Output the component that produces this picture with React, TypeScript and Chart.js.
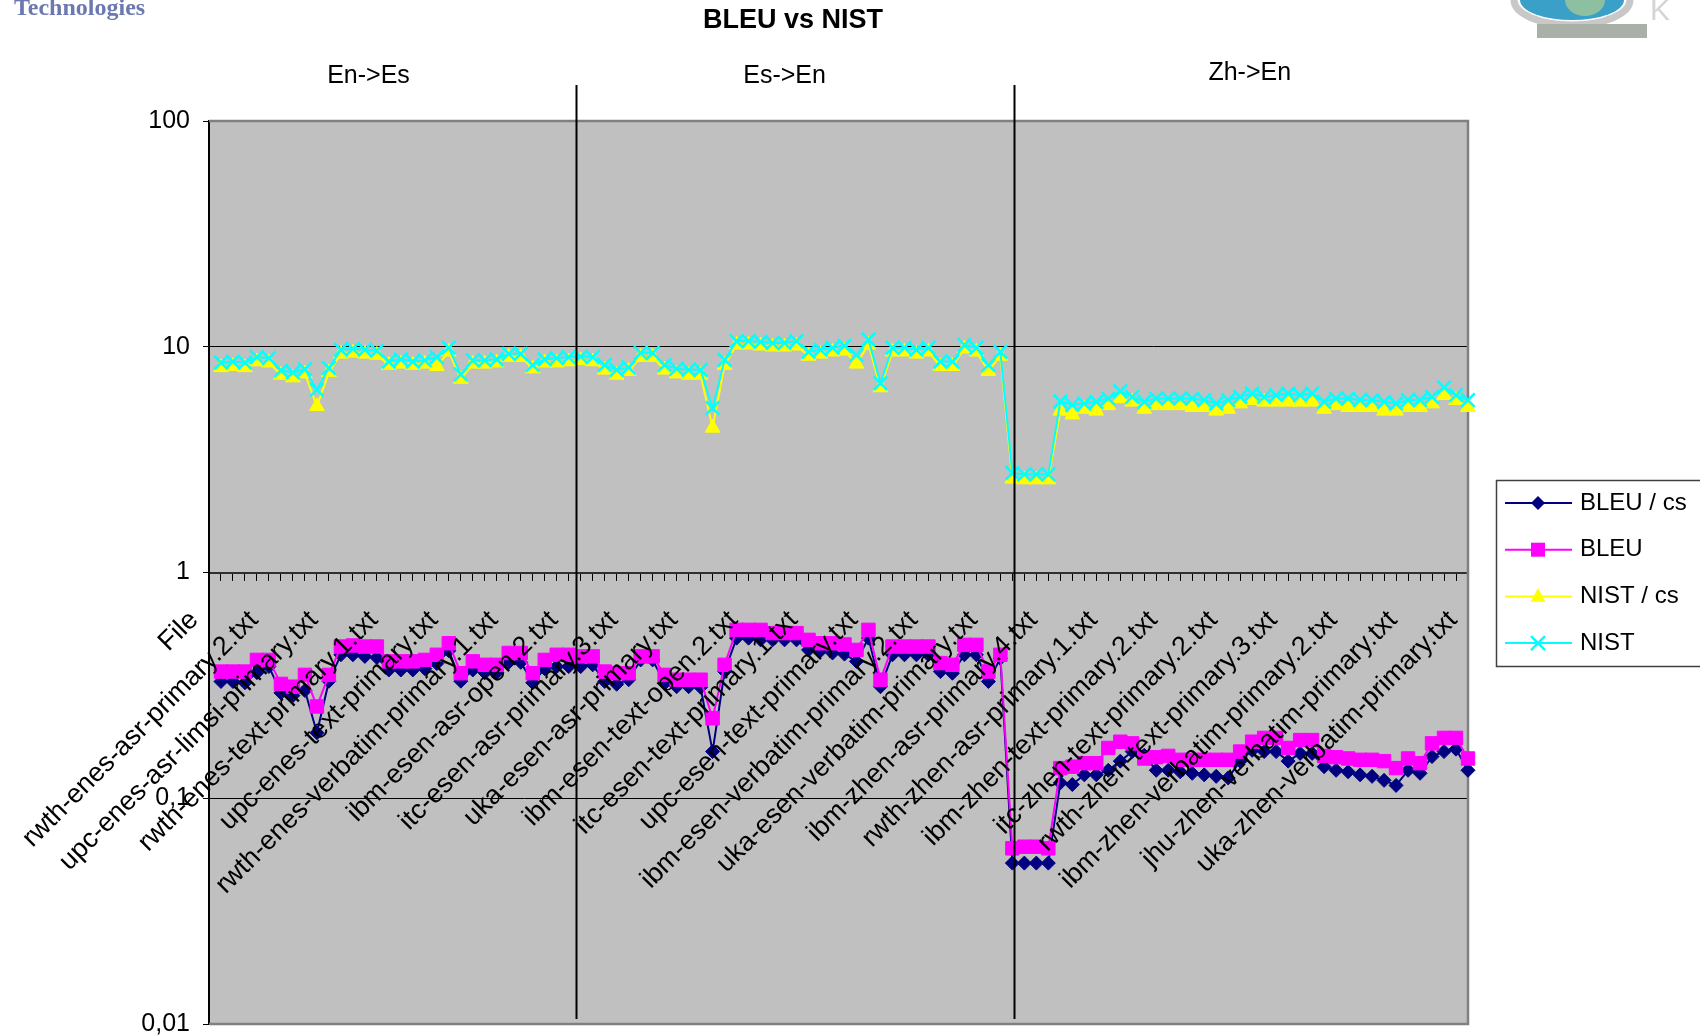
import React, { useEffect, useRef } from 'react';
import { Chart, registerables } from 'chart.js';

Chart.register(...registerables);

const FONT = "'Liberation Sans', Arial, Helvetica, sans-serif";

// Category labels visible on the axis (every 5th category, "File" is category 0)
const labeledFiles = [
  'File',
  'rwth-enes-asr-primary.2.txt',
  'upc-enes-asr-limsi-primary.txt',
  'rwth-enes-text-primary.1.txt',
  'upc-enes-text-primary.txt',
  'rwth-enes-verbatim-primary.1.txt',
  'ibm-esen-asr-open.2.txt',
  'itc-esen-asr-primary.3.txt',
  'uka-esen-asr-primary.txt',
  'ibm-esen-text-open.2.txt',
  'itc-esen-text-primary.1.txt',
  'upc-esen-text-primary.txt',
  'ibm-esen-verbatim-primary.2.txt',
  'uka-esen-verbatim-primary.txt',
  'ibm-zhen-asr-primary.4.txt',
  'rwth-zhen-asr-primary.1.txt',
  'ibm-zhen-text-primary.2.txt',
  'itc-zhen-text-primary.2.txt',
  'rwth-zhen-text-primary.3.txt',
  'ibm-zhen-verbatim-primary.2.txt',
  'jhu-zhen-verbatim-primary.txt',
  'uka-zhen-verbatim-primary.txt',
];
const labelStep = 5;
const categoryCount = 106;

const bleuCs = [
  null,
  0.329, 0.329, 0.325, 0.36, 0.383, 0.293, 0.285, 0.3, 0.195, 0.33,
  0.432, 0.432, 0.425, 0.42, 0.37, 0.37, 0.37, 0.375, 0.395, 0.45,
  0.33, 0.37, 0.36, 0.36, 0.4, 0.4, 0.325, 0.375, 0.383, 0.383,
  0.383, 0.39, 0.329, 0.32, 0.335, 0.41, 0.41, 0.323, 0.312, 0.312,
  0.31, 0.161, 0.364, 0.512, 0.512, 0.503, 0.503, 0.503, 0.503, 0.454,
  0.45, 0.44, 0.435, 0.404, 0.512, 0.312, 0.432, 0.432, 0.432, 0.432,
  0.364, 0.358, 0.432, 0.432, 0.329, 0.417, 0.0516, 0.0516, 0.0516, 0.0516,
  0.117, 0.115, 0.127, 0.127, 0.133, 0.146, 0.161, 0.155, 0.133, 0.133,
  0.131, 0.129, 0.127, 0.125, 0.123, 0.146, 0.163, 0.161, 0.161, 0.146,
  0.158, 0.158, 0.138, 0.133, 0.131, 0.127, 0.125, 0.12, 0.114, 0.133,
  0.129, 0.153, 0.161, 0.165, 0.133,
];

const bleu = [
  null,
  0.364, 0.364, 0.364, 0.41, 0.41, 0.321, 0.312, 0.352, 0.255, 0.352,
  0.47, 0.475, 0.47, 0.47, 0.404, 0.404, 0.404, 0.41, 0.432, 0.486,
  0.358, 0.404, 0.39, 0.39, 0.44, 0.44, 0.358, 0.41, 0.432, 0.432,
  0.425, 0.425, 0.364, 0.358, 0.358, 0.425, 0.425, 0.352, 0.335, 0.335,
  0.335, 0.226, 0.39, 0.557, 0.557, 0.557, 0.539, 0.539, 0.539, 0.503,
  0.486, 0.486, 0.48, 0.454, 0.557, 0.335, 0.47, 0.47, 0.47, 0.47,
  0.397, 0.39, 0.478, 0.478, 0.364, 0.432, 0.06, 0.061, 0.061, 0.06,
  0.136, 0.138, 0.143, 0.143, 0.167, 0.178, 0.175, 0.15, 0.152, 0.154,
  0.148, 0.148, 0.148, 0.148, 0.148, 0.161, 0.178, 0.185, 0.185, 0.167,
  0.181, 0.181, 0.154, 0.152, 0.15, 0.148, 0.148, 0.146, 0.136, 0.15,
  0.143, 0.175, 0.185, 0.185, 0.15,
];

const nistCs = [
  null,
  8.1, 8.2, 8.1, 8.6, 8.5, 7.5, 7.3, 7.6, 5.45, 7.7,
  9.3, 9.4, 9.3, 9.2, 8.3, 8.4, 8.3, 8.4, 8.2, 9.5,
  7.2, 8.4, 8.4, 8.5, 9.0, 9.0, 8.0, 8.5, 8.5, 8.6,
  8.7, 8.6, 7.9, 7.5, 7.8, 9.0, 9.0, 7.9, 7.6, 7.5,
  7.5, 4.37, 8.3, 10.2, 10.2, 10.1, 10.0, 10.0, 10.1, 9.1,
  9.3, 9.5, 9.6, 8.4, 10.2, 6.6, 9.5, 9.5, 9.3, 9.5,
  8.2, 8.2, 9.8, 9.5, 7.8, 9.1, 2.6, 2.58, 2.58, 2.58,
  5.2, 5.0, 5.3, 5.2, 5.5, 5.9, 5.7, 5.3, 5.5, 5.5,
  5.5, 5.4, 5.4, 5.2, 5.3, 5.6, 5.8, 5.7, 5.7, 5.7,
  5.7, 5.7, 5.3, 5.5, 5.4, 5.4, 5.4, 5.2, 5.2, 5.4,
  5.4, 5.6, 6.1, 5.8, 5.4,
];

const nist = [
  null,
  8.5, 8.6, 8.5, 9.0, 8.9, 7.85, 7.7, 7.95, 6.45, 8.05,
  9.7, 9.8, 9.7, 9.6, 8.6, 8.8, 8.6, 8.7, 9.0, 9.9,
  7.55, 8.7, 8.7, 8.8, 9.3, 9.3, 8.3, 8.8, 8.9, 9.0,
  9.05, 9.0, 8.3, 7.9, 8.1, 9.4, 9.4, 8.3, 8.0, 7.9,
  7.9, 5.35, 8.75, 10.6, 10.6, 10.5, 10.4, 10.4, 10.6, 9.5,
  9.7, 9.9, 10.1, 9.2, 10.75, 6.9, 9.9, 9.9, 9.7, 9.9,
  8.6, 8.6, 10.2, 9.9, 8.3, 9.5, 2.76, 2.72, 2.72, 2.72,
  5.72, 5.53, 5.6, 5.7, 5.9, 6.35, 6.0, 5.7, 5.9, 5.9,
  5.9, 5.9, 5.8, 5.6, 5.8, 6.0, 6.2, 6.0, 6.1, 6.2,
  6.1, 6.2, 5.7, 5.9, 5.9, 5.8, 5.8, 5.7, 5.6, 5.8,
  5.8, 6.0, 6.6, 6.1, 5.8,
];

const yTicks = [0.01, 0.1, 1, 10, 100];
const yTickLabels = ['0,01', '0,1', '1', '10', '100'];

const chartTitle = 'BLEU vs NIST';
const sectionNames = ['En->Es', 'Es->En', 'Zh->En'];
const sectionLabelAt = [13.3, 48.0, 86.8];
const sectionDividersAt = [30.58, 67.1];

const categories: string[] = Array.from({ length: categoryCount }, (_, i) =>
  i % labelStep === 0 ? labeledFiles[i / labelStep] ?? '' : ''
);

function drawMarker(ctx: CanvasRenderingContext2D, style: string, x: number, y: number, color: string) {
  ctx.save();
  ctx.fillStyle = color;
  ctx.strokeStyle = color;
  ctx.beginPath();
  if (style === 'rectRot') {
    const r = 7;
    ctx.moveTo(x, y - r); ctx.lineTo(x + r, y); ctx.lineTo(x, y + r); ctx.lineTo(x - r, y); ctx.closePath();
    ctx.fill();
  } else if (style === 'rect') {
    const s = 7;
    ctx.rect(x - s, y - s, 2 * s, 2 * s);
    ctx.fill();
  } else if (style === 'triangle') {
    const r = 8.5;
    ctx.moveTo(x, y - r); ctx.lineTo(x + r * 0.866, y + r / 2 + 1); ctx.lineTo(x - r * 0.866, y + r / 2 + 1); ctx.closePath();
    ctx.fill();
  } else {
    const r = 7;
    ctx.lineWidth = 2.5;
    ctx.moveTo(x - r, y - r); ctx.lineTo(x + r, y + r);
    ctx.moveTo(x + r, y - r); ctx.lineTo(x - r, y + r);
    ctx.stroke();
  }
  ctx.restore();
}

const decorPlugin = {
  id: 'decor',
  beforeDraw(chart: any) {
    const { ctx, chartArea: a } = chart;
    ctx.save();
    ctx.fillStyle = '#FFFFFF';
    ctx.fillRect(0, 0, chart.width, chart.height);
    ctx.fillStyle = '#C0C0C0';
    ctx.fillRect(a.left, a.top, a.right - a.left, a.bottom - a.top);
    ctx.restore();
  },
  beforeDatasetsDraw(chart: any) {
    const { ctx, chartArea: a } = chart;
    ctx.save();
    ctx.strokeStyle = '#808080';
    ctx.lineWidth = 2.5;
    ctx.beginPath();
    ctx.moveTo(a.left, a.top);
    ctx.lineTo(a.right, a.top);
    ctx.lineTo(a.right, a.bottom);
    ctx.lineTo(a.left, a.bottom);
    ctx.stroke();
    ctx.restore();
  },
  afterDraw(chart: any) {
    const { ctx, chartArea: a } = chart;
    const xs = chart.scales.x;
    ctx.save();
    // section dividers
    ctx.strokeStyle = '#000';
    ctx.lineWidth = 2;
    sectionDividersAt.forEach((c) => {
      const px = Math.round(xs.getPixelForValue(c)) + 0.5;
      ctx.beginPath();
      ctx.moveTo(px, a.top - 36);
      ctx.lineTo(px, a.bottom - 5);
      ctx.stroke();
    });
    // title
    ctx.fillStyle = '#000';
    ctx.textAlign = 'center';
    ctx.textBaseline = 'middle';
    ctx.font = `bold 27px ${FONT}`;
    ctx.fillText(chartTitle, a.left + 584, 21);
    // section labels
    ctx.font = `25px ${FONT}`;
    sectionNames.forEach((n, i) => {
      ctx.fillText(n, xs.getPixelForValue(sectionLabelAt[i]), i === 2 ? 73 : 76);
    });
    // logo text top-left
    ctx.font = `bold 24px 'Liberation Serif', serif`;
    ctx.fillStyle = '#6c78b0';
    ctx.textAlign = 'left';
    ctx.fillText('Technologies', 14, 9);
    // globe (top-right decoration)
    ctx.fillStyle = '#3aa0c8';
    ctx.beginPath();
    ctx.ellipse(1572, 0, 52, 20, 0, 0, Math.PI);
    ctx.fill();
    ctx.fillStyle = '#8cc0a0';
    ctx.beginPath();
    ctx.ellipse(1585, 0, 20, 16, 0, 0, Math.PI);
    ctx.fill();
    ctx.strokeStyle = '#c8c8c8';
    ctx.lineWidth = 7;
    ctx.beginPath();
    ctx.ellipse(1572, 0, 58, 25, 0, 0, Math.PI);
    ctx.stroke();
    ctx.fillStyle = '#a8b0a8';
    ctx.fillRect(1537, 24, 110, 14);
    ctx.fillStyle = '#d4d4d4';
    ctx.font = `30px ${FONT}`;
    ctx.fillText('K', 1650, 12);

    // legend
    const lx = a.right + 28;
    const ly = 480;
    ctx.fillStyle = '#FFFFFF';
    ctx.fillRect(lx, ly, chart.width - lx + 5, 186);
    ctx.strokeStyle = '#404040';
    ctx.lineWidth = 1.5;
    ctx.strokeRect(lx + 0.5, ly + 0.5, chart.width - lx + 5, 186);
    const ds = chart.data.datasets;
    ds.forEach((d: any, i: number) => {
      const cy = ly + 23 + i * 46.7;
      ctx.strokeStyle = d.borderColor;
      ctx.lineWidth = 2;
      ctx.beginPath();
      ctx.moveTo(lx + 9, cy);
      ctx.lineTo(lx + 76, cy);
      ctx.stroke();
      drawMarker(ctx, d.pointStyle, lx + 42, cy, d.borderColor);
      ctx.fillStyle = '#000';
      ctx.font = `24px ${FONT}`;
      ctx.textAlign = 'left';
      ctx.textBaseline = 'middle';
      ctx.fillText(d.label, lx + 84, cy);
    });
    ctx.restore();
  },
};

export default function App() {
  const ref = useRef<HTMLCanvasElement | null>(null);
  useEffect(() => {
    document.body.style.margin = '0';
    const canvas = ref.current;
    if (!canvas) return;
    Chart.defaults.font.family = FONT;
    const chart = new Chart(canvas, {
      type: 'line',
      data: {
        labels: categories,
        datasets: [
          {
            label: 'BLEU / cs', data: bleuCs, borderColor: '#000080', backgroundColor: '#000080',
            pointStyle: 'rectRot', pointRadius: 7, pointBorderWidth: 1, borderWidth: 2, order: 3, clip: false,
          },
          {
            label: 'BLEU', data: bleu, borderColor: '#FF00FF', backgroundColor: '#FF00FF',
            pointStyle: 'rect', pointRadius: 9.5, pointBorderWidth: 1, borderWidth: 2, order: 2, clip: false,
          },
          {
            label: 'NIST / cs', data: nistCs, borderColor: '#FFFF00', backgroundColor: '#FFFF00',
            pointStyle: 'triangle', pointRadius: 8.5, pointBorderWidth: 1, borderWidth: 2, order: 1, clip: false,
          },
          {
            label: 'NIST', data: nist, borderColor: '#00FFFF', backgroundColor: '#00FFFF',
            pointStyle: 'crossRot', pointRadius: 9.5, pointBorderWidth: 2.5, borderWidth: 2, order: 0, clip: false,
          },
        ] as any,
      },
      options: {
        animation: false,
        responsive: false,
        devicePixelRatio: 1,
        layout: { padding: { left: 0, top: 121, right: 232, bottom: 12 } },
        elements: { line: { tension: 0 } },
        plugins: { legend: { display: false }, tooltip: { enabled: false }, title: { display: false } },
        scales: {
          x: {
            type: 'category',
            position: { y: 1 } as any,
            offset: false,
            grid: { display: true, drawOnChartArea: false, drawTicks: true, tickLength: 7, color: '#000', tickColor: '#000', tickWidth: 1 },
            border: { display: true, color: '#303030', width: 2 },
            ticks: {
              autoSkip: false, minRotation: 45, maxRotation: 45, padding: 25, labelOffset: -15, color: '#000',
              font: { size: 27, family: FONT }, z: 1,
            },
            afterFit(scale: any) {
              scale.height = 0;
              scale.paddingLeft = 0;
              scale.paddingRight = 0;
            },
          },
          y: {
            type: 'logarithmic',
            position: 'left',
            min: 0.01,
            max: 100,
            afterBuildTicks(scale: any) {
              scale.ticks = yTicks.map((v) => ({ value: v, major: true }));
            },
            afterFit(scale: any) {
              scale.width = 209;
              scale.paddingTop = 0;
              scale.paddingBottom = 0;
            },
            grid: { color: '#000', lineWidth: 1, drawTicks: true, tickLength: 6, tickColor: '#000' },
            border: { display: true, color: '#000', width: 2 },
            ticks: {
              padding: 13, color: '#000', font: { size: 25, family: FONT },
              callback: (v: any) => {
                const i = yTicks.indexOf(Number(v));
                return i >= 0 ? yTickLabels[i] : '';
              },
            },
          },
        },
      },
      plugins: [decorPlugin],
    });
    return () => chart.destroy();
  }, []);
  return (
    <div style={{ width: 1700, height: 1036, overflow: 'hidden' }}>
      <canvas ref={ref} width={1700} height={1036} style={{ display: 'block' }} />
    </div>
  );
}
